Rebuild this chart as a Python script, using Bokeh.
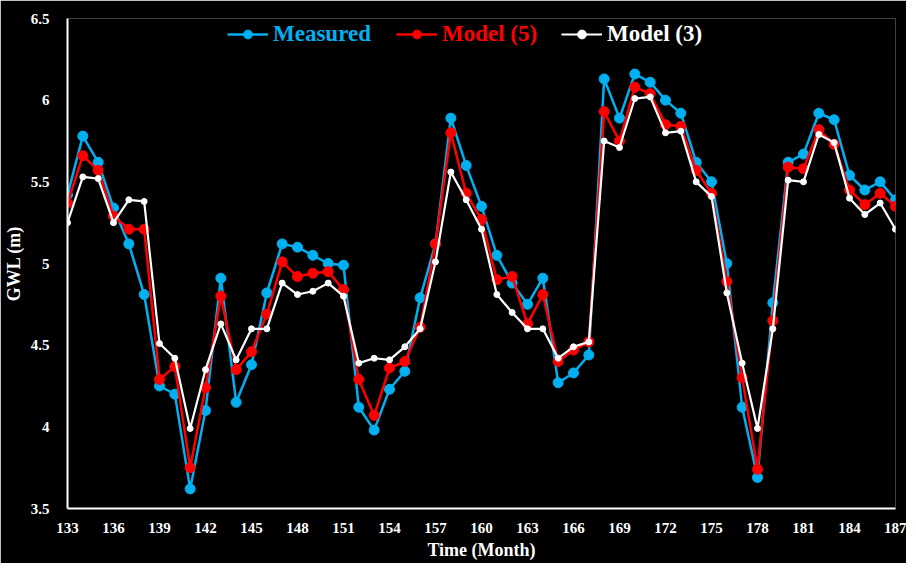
from bokeh.plotting import figure
from bokeh.models import Legend, LegendItem, FixedTicker, Range1d
from bokeh.embed import file_html
from bokeh.resources import INLINE

months = list(range(133, 188))
measured = [5.42, 5.78, 5.62, 5.34, 5.12, 4.81, 4.25, 4.20, 3.62, 4.10,
            4.91, 4.15, 4.38, 4.82, 5.12, 5.10, 5.05, 5.00, 4.99, 4.12,
            3.98, 4.23, 4.34, 4.79, 5.12, 5.89, 5.60, 5.35, 5.05, 4.88,
            4.75, 4.91, 4.27, 4.33, 4.44, 6.13, 5.89, 6.16, 6.11, 6.00,
            5.92, 5.62, 5.50, 5.00, 4.12, 3.69, 4.76, 5.62, 5.67, 5.92,
            5.88, 5.54, 5.45, 5.50, 5.39]
model5 = [5.37, 5.66, 5.57, 5.29, 5.21, 5.21, 4.29, 4.37, 3.75, 4.24,
          4.80, 4.35, 4.46, 4.69, 5.01, 4.92, 4.94, 4.95, 4.84, 4.29,
          4.07, 4.36, 4.40, 4.61, 5.12, 5.80, 5.43, 5.27, 4.90, 4.92,
          4.63, 4.81, 4.40, 4.47, 4.52, 5.93, 5.75, 6.08, 6.04, 5.85,
          5.84, 5.57, 5.43, 4.89, 4.30, 3.74, 4.65, 5.59, 5.58, 5.82,
          5.73, 5.45, 5.36, 5.43, 5.35]
model3 = [5.25, 5.53, 5.52, 5.25, 5.39, 5.38, 4.51, 4.42, 3.99, 4.35,
          4.63, 4.41, 4.60, 4.60, 4.88, 4.81, 4.83, 4.88, 4.80, 4.39,
          4.42, 4.41, 4.49, 4.60, 5.01, 5.56, 5.39, 5.21, 4.81, 4.70,
          4.60, 4.60, 4.42, 4.49, 4.52, 5.75, 5.71, 6.01, 6.02, 5.80,
          5.81, 5.50, 5.41, 4.82, 4.39, 3.99, 4.60, 5.51, 5.50, 5.79,
          5.74, 5.40, 5.30, 5.37, 5.21]
x_ticks = list(range(133, 188, 3))
y_ticks = [3.5, 4.0, 4.5, 5.0, 5.5, 6.0, 6.5]
series_names = ["Measured", "Model (5)", "Model (3)"]
colors = ["#00B0F0", "#FF0000", "#FFFFFF"]

FONT = "Liberation Serif"

p = figure(width=906, height=563, output_backend="svg", toolbar_location=None,
           x_range=Range1d(133, 187), y_range=Range1d(3.5, 6.5),
           min_border_left=65, min_border_right=11, min_border_top=18,
           min_border_bottom=55)
p.background_fill_color = "black"
p.border_fill_color = "black"
p.outline_line_color = None
p.xgrid.visible = False
p.ygrid.visible = False

for ax in (p.xaxis[0], p.yaxis[0]):
    ax.axis_line_color = "white"
    ax.axis_line_width = 2
    ax.major_tick_line_color = None
    ax.minor_tick_line_color = None
    ax.major_label_text_color = "white"
    ax.major_label_text_font = FONT
    ax.major_label_text_font_style = "bold"
    ax.major_label_text_font_size = "15px"
    ax.axis_label_text_color = "white"
    ax.axis_label_text_font = FONT
    ax.axis_label_text_font_style = "bold"
    ax.axis_label_text_font_size = "18px"

p.xaxis.ticker = FixedTicker(ticks=x_ticks)
p.yaxis.ticker = FixedTicker(ticks=y_ticks)
p.yaxis.major_label_overrides = {3.5: "3.5", 4.0: "4", 4.5: "4.5", 5.0: "5",
                                 5.5: "5.5", 6.0: "6", 6.5: "6.5"}
p.xaxis.axis_label = "Time (Month)"
p.yaxis.axis_label = "GWL (m)"
p.xaxis.major_label_standoff = 8
p.yaxis.major_label_standoff = 12
p.xaxis.axis_label_standoff = 4
p.yaxis.axis_label_standoff = 4

data = [measured, model5, model3]
sizes = [10, 10, 6]
widths = [2.5, 2.5, 2.2]
renderers = []
for ys, c, s, w in zip(data, colors, sizes, widths):
    l = p.line(months, ys, line_color=c, line_width=w)
    m = p.scatter(months, ys, size=s, fill_color=c, line_color=c)
    renderers.append([l, m])

legend_x = [160, 329, 494]
for name, c, rs, lx in zip(series_names, colors, renderers, legend_x):
    lg = Legend(items=[LegendItem(label=name, renderers=rs)],
                location=(lx, 461), orientation="horizontal",
                label_text_color=c, label_text_font=FONT,
                label_text_font_style="bold", label_text_font_size="23px",
                background_fill_alpha=0, border_line_color=None,
                padding=0, margin=0, glyph_width=41, glyph_height=22,
                label_standoff=5, spacing=0)
    p.add_layout(lg)

open("out.html", "w").write(file_html(p, INLINE))
